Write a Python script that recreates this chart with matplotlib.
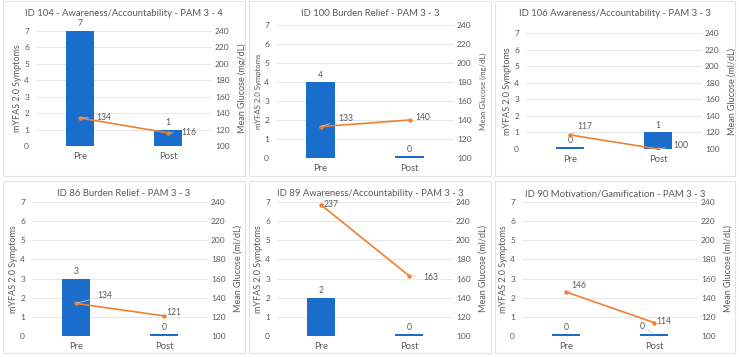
import matplotlib.pyplot as plt
from matplotlib.patches import Rectangle

plt.rcParams['font.family'] = ['Lato', 'DejaVu Sans']

# data
titles = [
    "ID 104 - Awareness/Accountability - PAM 3 - 4",
    "ID 100 Burden Relief - PAM 3 - 3",
    "ID 106 Awareness/Accountability - PAM 3 - 3",
    "ID 86 Burden Relief - PAM 3 - 3",
    "ID 89 Awareness/Accountability - PAM 3 - 3",
    "ID 90 Motivation/Gamification - PAM 3 - 3",
]
categories = ["Pre", "Post"]
symptoms_104 = [7, 1]
symptoms_100 = [4, 0]
symptoms_106 = [0, 1]
symptoms_86 = [3, 0]
symptoms_89 = [2, 0]
symptoms_90 = [0, 0]
glucose_104 = [134, 116]
glucose_100 = [133, 140]
glucose_106 = [117, 100]
glucose_86 = [134, 121]
glucose_89 = [237, 163]
glucose_90 = [146, 114]
glucose_units = ["mg/dL", "mg/dL", "ml/dL", "ml/dL", "ml/dL", "ml/dL"]

symptoms = [symptoms_104, symptoms_100, symptoms_106, symptoms_86, symptoms_89, symptoms_90]
glucose = [glucose_104, glucose_100, glucose_106, glucose_86, glucose_89, glucose_90]

# layout (pixels): panel frame and plot area per chart
W, H = 739, 357
frames = [(3, 1, 245, 176), (249, 1, 491, 176), (495, 1, 735, 176),
          (3, 181, 245, 353), (249, 181, 491, 353), (495, 181, 735, 353)]
areas = [(36, 31, 212, 146), (276, 25, 454, 158), (526, 33, 702, 149),
         (32, 202, 208, 336), (277, 202, 453, 336), (522, 202, 698, 336)]
# line label offsets (pixels, x right / y up)
line_offsets = [[(24, 1), (21, 0)], [(25, 8), (13, 2)], [(15, 8), (23, 4)],
                [(29, 8), (10, 3)], [(10, 0), (22, -2)], [(13, 6), (10, 1)]]
bar_offsets = [[(0, 7), (0, 7)]] * 5 + [[(0, 7), (-12, 8)]]
ylabel_sizes = [6.5, 5.6, 6.5, 6.5, 6.5, 6.5]

BLUE = "#1B6DCB"
ORANGE = "#F0802F"
TEXT = "#595959"
GRID = "#E3E3E3"
LEADER = "#C8C8C8"
MIN_BAR = 0.1

fig = plt.figure(figsize=(W / 100, H / 100), dpi=100)
fig.patch.set_facecolor("white")

px = 72 / 100  # points per pixel

for i in range(6):
    fx0, fy0, fx1, fy1 = frames[i]
    fig.add_artist(Rectangle((fx0 / W, 1 - fy1 / H), (fx1 - fx0) / W, (fy1 - fy0) / H,
                             transform=fig.transFigure, fill=False,
                             edgecolor="#E4E4E4", lw=0.8))
    x0, y0, x1, y1 = areas[i]
    ax = fig.add_axes([x0 / W, 1 - y1 / H, (x1 - x0) / W, (y1 - y0) / H])
    ax2 = ax.twinx()

    xs = range(len(categories))
    heights = [max(v, MIN_BAR) for v in symptoms[i]]
    ax.bar(xs, heights, width=0.32, color=BLUE, zorder=2)
    ax.set_xlim(-0.5, 1.5)
    ax.set_ylim(0, 7)
    ax.set_yticks(range(0, 8))
    ax.grid(axis="y", color=GRID, lw=0.6, zorder=0)
    ax.set_axisbelow(True)
    for j, v in enumerate(symptoms[i]):
        dx, dy = bar_offsets[i][j]
        kw = {}
        if dx != 0:
            kw = dict(arrowprops=dict(arrowstyle="-", color=LEADER, lw=0.6,
                                      shrinkA=0, shrinkB=1))
        ax.annotate(str(v), (j, heights[j]), xytext=(dx * px, dy * px),
                    textcoords="offset points", ha="center", va="center",
                    fontsize=6.2, color=TEXT, **kw)

    ax2.plot(xs, glucose[i], color=ORANGE, lw=1.2, marker="o", ms=2.2, zorder=3)
    ax2.set_ylim(100, 240)
    ax2.set_yticks(range(100, 241, 20))
    for j, v in enumerate(glucose[i]):
        dx, dy = line_offsets[i][j]
        kw = {}
        if abs(dx) > 12 or abs(dy) > 4:
            kw = dict(arrowprops=dict(arrowstyle="-", color=LEADER, lw=0.6,
                                      shrinkA=4, shrinkB=1))
        ax2.annotate(str(v), (j, v), xytext=(dx * px, dy * px),
                     textcoords="offset points", ha="center", va="center",
                     fontsize=6.2, color=TEXT, **kw)

    for a in (ax, ax2):
        for s in a.spines.values():
            s.set_visible(False)
        a.tick_params(length=0, labelsize=6, labelcolor=TEXT)
    ax.set_xticks(list(xs))
    ax.set_xticklabels(categories, fontsize=6.8)
    ax.tick_params(axis="x", pad=4)
    ax.tick_params(axis="y", pad=5)
    ax2.tick_params(axis="y", pad=2)
    ax.set_ylabel("mYFAS 2.0 Symptoms", fontsize=ylabel_sizes[i], color=TEXT, labelpad=1.5)
    ax2.set_ylabel("Mean Glucose (%s)" % glucose_units[i], fontsize=ylabel_sizes[i],
                   color=TEXT, labelpad=6)

    fig.text((fx0 + fx1) / 2 / W, 1 - (fy0 + 13) / H, titles[i],
             ha="center", va="center", fontsize=6.8, color=TEXT)

fig.savefig("out.png", dpi=100)
